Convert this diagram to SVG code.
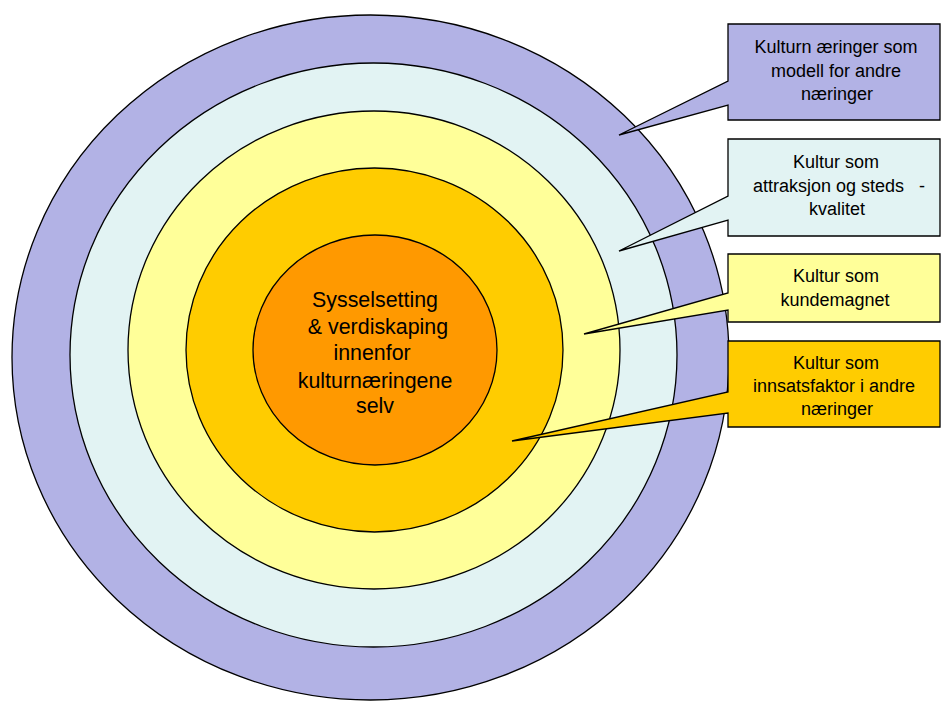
<svg xmlns="http://www.w3.org/2000/svg" width="941" height="702" viewBox="0 0 941 702">
  <style>
    .ring { stroke: #000; stroke-width: 1.3; }
    .call { stroke: #000; stroke-width: 1.3; stroke-linejoin: miter; }
    .lbl { font-family: "Liberation Sans", Arial, sans-serif; font-size: 18px; fill: #000; text-anchor: middle; }
    .core { font-family: "Liberation Sans", Arial, sans-serif; font-size: 21.4px; fill: #000; text-anchor: middle; }
  </style>
  <rect width="941" height="702" fill="#fff"/>

  <!-- concentric rings, outermost first -->
  <g id="ring-model">
    <ellipse class="ring" cx="370.5" cy="357.5" rx="358.5" ry="342.5" fill="#B2B2E5"/>
  </g>
  <g id="ring-attraction">
    <ellipse class="ring" cx="373.5" cy="355" rx="303.5" ry="292" fill="#E2F3F3"/>
  </g>
  <g id="ring-magnet">
    <ellipse class="ring" cx="374" cy="350" rx="246" ry="239" fill="#FFFF99"/>
  </g>
  <g id="ring-input">
    <ellipse class="ring" cx="374.5" cy="350" rx="188.5" ry="182" fill="#FFCC00"/>
  </g>
  <g id="core">
    <ellipse class="ring" cx="375" cy="350" rx="122" ry="115" fill="#FF9900"/>
    <text class="core" x="375" y="307">Sysselsetting</text>
    <text class="core" x="375" y="334" xml:space="preserve"> &amp; verdiskaping</text>
    <text class="core" x="375" y="360" xml:space="preserve">innenfor </text>
    <text class="core" x="375" y="388">kulturnæringene</text>
    <text class="core" x="375" y="413">selv</text>
  </g>

  <!-- callout boxes with pointer tails -->
  <g id="callouts">
    <g id="callout-model">
      <path class="call" fill="#B2B2E5" d="M728,24 H940 V120 H728 V105 L619,135 L728,81 Z"/>
      <text class="lbl" x="836" y="53">Kulturn æringer som</text>
      <text class="lbl" x="836" y="76.5">modell for andre</text>
      <text class="lbl" x="837" y="100">næringer</text>
    </g>
    <g id="callout-attraction">
      <path class="call" fill="#E2F3F3" d="M728,139 H940 V236 H728 V220 L619,251 L728,196 Z"/>
      <text class="lbl" x="836" y="168">Kultur som</text>
      <text class="lbl" x="839" y="191.5" xml:space="preserve">attraksjon og steds   -</text>
      <text class="lbl" x="837" y="215">kvalitet</text>
    </g>
    <g id="callout-magnet">
      <path class="call" fill="#FFFF99" d="M728,254 H940 V322 H728 V310 L584,334 L728,293 Z"/>
      <text class="lbl" x="836" y="282">Kultur som</text>
      <text class="lbl" x="835" y="306">kundemagnet</text>
    </g>
    <g id="callout-input">
      <path class="call" fill="#FFCC00" d="M728,341 H940 V427 H728 V413 L512,441 L728,392 Z"/>
      <text class="lbl" x="836" y="369">Kultur som</text>
      <text class="lbl" x="834" y="392">innsatsfaktor i andre</text>
      <text class="lbl" x="837" y="415">næringer</text>
    </g>
  </g>
</svg>
